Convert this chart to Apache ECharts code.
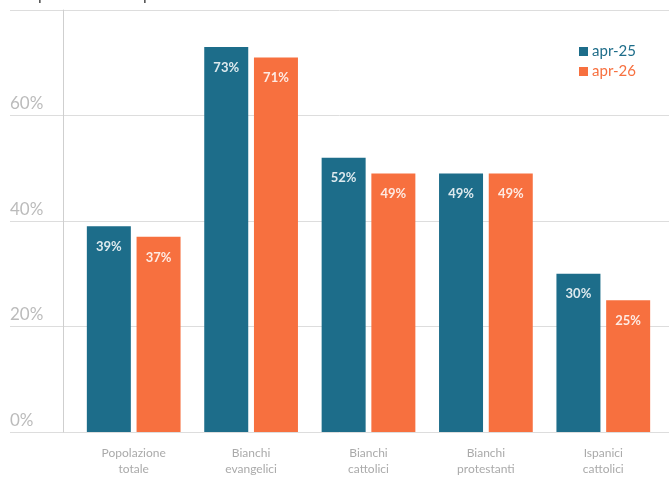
<!DOCTYPE html>
<html><head><meta charset="utf-8">
<script src="https://cdn.jsdelivr.net/npm/echarts@6/dist/echarts.min.js"></script>
<style>html,body{margin:0;padding:0;background:#fff}#c{width:669px;height:484px}</style>
</head><body><div id="c"></div>
<script>
const categories = ['Popolazione\ntotale','Bianchi\nevangelici','Bianchi\ncattolici','Bianchi\nprotestanti','Ispanici\ncattolici'];
const seriesNames = ['apr-25','apr-26'];
const apr25 = [39,73,52,49,30];
const apr26 = [37,71,49,49,25];
const yTicks = [0,20,40,60,80];
const colors = ['#1d6d8a','#f7703f'];

const chart = echarts.init(document.getElementById('c'));
const font = 'Lato, "Open Sans", sans-serif';
chart.setOption({
  animation:false,
  title:{text:'da aprile 2025 ad aprile 2026',left:4,top:-18,textStyle:{fontFamily:font,fontSize:16,fontWeight:'normal',color:'#444'}},
  legend:{orient:'vertical',right:28,top:39,itemWidth:9,itemHeight:9,itemGap:5,icon:'rect',
    data:[{name:seriesNames[0],textStyle:{color:colors[0]}},{name:seriesNames[1],textStyle:{color:colors[1]}}],
    textStyle:{fontFamily:font,fontSize:15,padding:[0,0,0,-1]}},
  grid:[
    {left:10,right:0,top:10,bottom:52,outerBoundsMode:'none',containLabel:false},
    {left:75,right:7,top:10,bottom:52,outerBoundsMode:'none',containLabel:false}
  ],
  xAxis:[
    {type:'value',gridIndex:0,show:false,min:0,max:1},
    {type:'category',gridIndex:1,data:categories,axisLine:{show:false},axisTick:{show:false},
      axisLabel:{color:'#aaa',fontFamily:font,fontSize:12,lineHeight:16,margin:13}}
  ],
  yAxis:[
    {type:'value',gridIndex:0,min:yTicks[0],max:yTicks[yTicks.length-1],interval:20,
      axisLine:{show:false},axisTick:{show:false},
      splitLine:{lineStyle:{color:'#dddddd',width:1}},
      axisLabel:{inside:true,showMaxLabel:false,margin:0,verticalAlign:'bottom',padding:[0,0,3,0],color:'#bbb',fontFamily:font,fontSize:17,
        formatter:v=>v===yTicks[yTicks.length-1]?'':v+'%'}},
    {type:'value',gridIndex:1,min:0,max:80,interval:20,offset:12,
      axisLine:{show:true,lineStyle:{color:'#cfcfcf',width:1}},axisTick:{show:false},axisLabel:{show:false},splitLine:{show:false}}
  ],
  series:[
    {name:seriesNames[0],type:'bar',xAxisIndex:1,yAxisIndex:1,data:apr25,barWidth:44,barGap:'13%',
      itemStyle:{color:colors[0]},
      label:{show:true,position:'insideTop',distance:14,color:'rgba(255,255,255,0.85)',fontFamily:font,fontSize:13,fontWeight:'bold',formatter:p=>p.value+'%'}},
    {name:seriesNames[1],type:'bar',xAxisIndex:1,yAxisIndex:1,data:apr26,barWidth:44,
      itemStyle:{color:colors[1]},
      label:{show:true,position:'insideTop',distance:14,color:'rgba(255,255,255,0.85)',fontFamily:font,fontSize:13,fontWeight:'bold',formatter:p=>p.value+'%'}}
  ]
});
</script></body></html>
